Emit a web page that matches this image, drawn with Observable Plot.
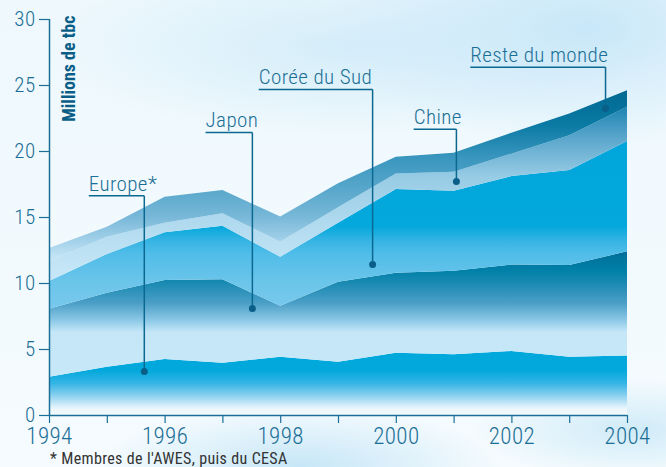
<!DOCTYPE html>
<html>
<head>
<meta charset="utf-8">
<script src="https://cdn.jsdelivr.net/npm/d3@7"></script>
<script src="https://cdn.jsdelivr.net/npm/@observablehq/plot@0.6"></script>
<style>
html, body { margin: 0; padding: 0; }
body {
  width: 666px; height: 467px; overflow: hidden; position: relative;
  font-family: "Roboto Condensed", "DejaVu Sans Condensed", sans-serif;
  background:
    radial-gradient(ellipse 260px 120px at 88% 6%, #c8e7f8 0%, rgba(200,231,248,0) 100%),
    radial-gradient(ellipse 300px 90px at 52% 10%, #d4edf9 0%, rgba(212,237,249,0) 100%),
    radial-gradient(ellipse 200px 60px at 45% 100%, #c6e6f7 0%, rgba(198,230,247,0) 100%),
    radial-gradient(ellipse 160px 50px at 95% 92%, #d0ebf8 0%, rgba(208,235,248,0) 100%),
    linear-gradient(180deg, #eef8fd 0%, #f5fbfe 100%);
}
#chart svg text { letter-spacing: 0.4px; font-weight: 300; }
#chart svg .ylab text { font-weight: 700; letter-spacing: 0; }
#caption {
  position: absolute; left: 50px; top: 449px;
  font-size: 16px; color: #333; letter-spacing: 0.35px; white-space: nowrap; font-weight: 400;
}
</style>
</head>
<body>
<div id="chart"></div>
<div id="caption">* Membres de l'AWES, puis du CESA</div>
<script>
// ---- data ----
const years = [1994, 1995, 1996, 1997, 1998, 1999, 2000, 2001, 2002, 2003, 2004];
const seriesNames = ["Europe", "Japon", "Corée du Sud", "Chine", "Reste du monde"];
const europe = [2.9, 3.66, 4.24, 3.96, 4.42, 4.04, 4.72, 4.6, 4.85, 4.42, 4.5];
const japon  = [5.15, 5.61, 5.99, 6.32, 3.86, 6.06, 6.06, 6.33, 6.55, 6.94, 7.9];
const coree  = [2.1, 2.93, 3.61, 4.06, 3.71, 4.47, 6.34, 6.06, 6.7, 7.2, 8.36];
const chine  = [1.5, 1.3, 0.73, 0.94, 1.14, 1.16, 1.18, 1.44, 1.7, 2.64, 2.6];
const reste  = [1.0, 0.77, 1.97, 1.77, 1.9, 1.82, 1.27, 1.44, 1.59, 1.65, 1.24];
const yTicks = [0, 5, 10, 15, 20, 25, 30];
const xLabelYears = [1994, 1996, 1998, 2000, 2002, 2004];

// annotation labels (data coordinates)
const labelTexts = ["Europe*", "Japon", "Corée du Sud", "Chine", "Reste du monde"];
const labelX = [1994.68, 1996.70, 1997.62, 2000.30, 2001.28];
const labelY = [16.64, 21.44, 24.7, 21.69, 26.39];
const pointX = [1995.64, 1997.51, 1999.59, 2001.04, 2003.62];
const pointY = [3.33, 8.1, 11.44, 17.73, 23.26];

// ---- tables built from the arrays ----
const seriesValues = [europe, japon, coree, chine, reste];
const table = [];
seriesNames.forEach((s, i) => years.forEach((y, j) => table.push({year: y, series: s, value: seriesValues[i][j]})));
const ann = labelTexts.map((t, i) => ({t, lx: labelX[i], ly: labelY[i], px: pointX[i], py: pointY[i]}));

// ---- styles: vertical gradients (value -> colour) ----
const gradStops = [
  [[4.9, "#00a8dc"], [3.4, "#02a8dc"], [2.4, "#34b5e5"], [1.5, "#88cfef"], [0.5, "#eaf6fc"], [0, "#f4fafd"]],
  [[12.6, "#006a94"], [11, "#0080a8"], [10, "#1a8ab2"], [8.5, "#4a9ec6"], [7.2, "#8ac8e6"], [6.3, "#c4e6f7"], [0, "#c8eaf9"]],
  [[21, "#00a5db"], [14.3, "#04a8dc"], [13.2, "#36b4e4"], [12.2, "#50bde8"], [10, "#6cc5ea"], [8, "#78c9ec"]],
  [[23.4, "#1a84b0"], [21, "#5aa6cc"], [18, "#98cce5"], [14, "#b4dcf0"], [11, "#c4e6f6"]],
  [[24.7, "#006890"], [22, "#0a7aa4"], [19.5, "#3a96be"], [17, "#5aa8cc"], [15, "#78b8d8"], [13, "#a8d4ec"], [12, "#c2e3f4"]]
];

const axisColor = "#1b6f96";
const lineColor = "#0b6890";
const fontStack = '"Roboto Condensed", "DejaVu Sans Condensed", sans-serif';

const chart = Plot.plot({
  width: 666,
  height: 447,
  marginLeft: 49,
  marginRight: 39,
  marginTop: 19,
  marginBottom: 32,
  style: {background: "transparent", color: axisColor, fontFamily: fontStack, overflow: "visible"},
  x: {domain: [1994, 2004], axis: null},
  y: {domain: [0, 30], axis: null},
  color: {type: "ordinal", domain: seriesNames, range: seriesNames.map((d, i) => `url(#grad${i})`)},
  marks: [
    Plot.areaY(table, {x: "year", y: "value", z: "series", fill: "series", order: seriesNames}),
    Plot.axisY({ticks: yTicks, tickSize: 10, tickPadding: 4, fontSize: 21, strokeWidth: 1.2, tickFormat: d => String(d)}),
    Plot.axisX({ticks: years, tickSize: 8, tickPadding: 4, fontSize: 23, strokeWidth: 1.2,
      tickFormat: d => (xLabelYears.includes(d) ? String(d) : "")}),
    Plot.ruleX([1994], {stroke: axisColor, strokeWidth: 1.5}),
    Plot.ruleY([0], {stroke: axisColor, strokeWidth: 1.5}),
    Plot.text(["Millions de tbc"], {frameAnchor: "top-left", rotate: -90, textAnchor: "end", dx: 13, dy: -4,
      fontSize: 18, fontWeight: "bold", fill: "#0a5e86", className: "ylab"}),
    Plot.link(ann, {x1: "lx", x2: "px", y1: "ly", y2: "ly", stroke: lineColor, strokeWidth: 1.5}),
    Plot.link(ann, {x1: "px", x2: "px", y1: "ly", y2: "py", stroke: lineColor, strokeWidth: 1.5}),
    Plot.dot(ann, {x: "px", y: "py", r: 3.5, fill: "#0a5f88", stroke: "none"}),
    Plot.text(ann, {x: "lx", y: "ly", text: "t", textAnchor: "start", lineAnchor: "bottom", dy: -5, fontSize: 21, fill: axisColor})
  ]
});

// gradient definitions, positioned through the y scale
const ys = chart.scale("y");
const yTop = ys.apply(30), yBot = ys.apply(0);
const defs = d3.select(chart).insert("defs", ":first-child");
gradStops.forEach((stops, i) => {
  const g = defs.append("linearGradient").attr("id", `grad${i}`)
    .attr("gradientUnits", "userSpaceOnUse")
    .attr("x1", 0).attr("x2", 0).attr("y1", yTop).attr("y2", yBot);
  stops.map(([v, c]) => [(ys.apply(v) - yTop) / (yBot - yTop), c])
    .sort((a, b) => a[0] - b[0])
    .forEach(([o, c]) => g.append("stop").attr("offset", o).attr("stop-color", c));
});

document.getElementById("chart").append(chart);
</script>
</body>
</html>
